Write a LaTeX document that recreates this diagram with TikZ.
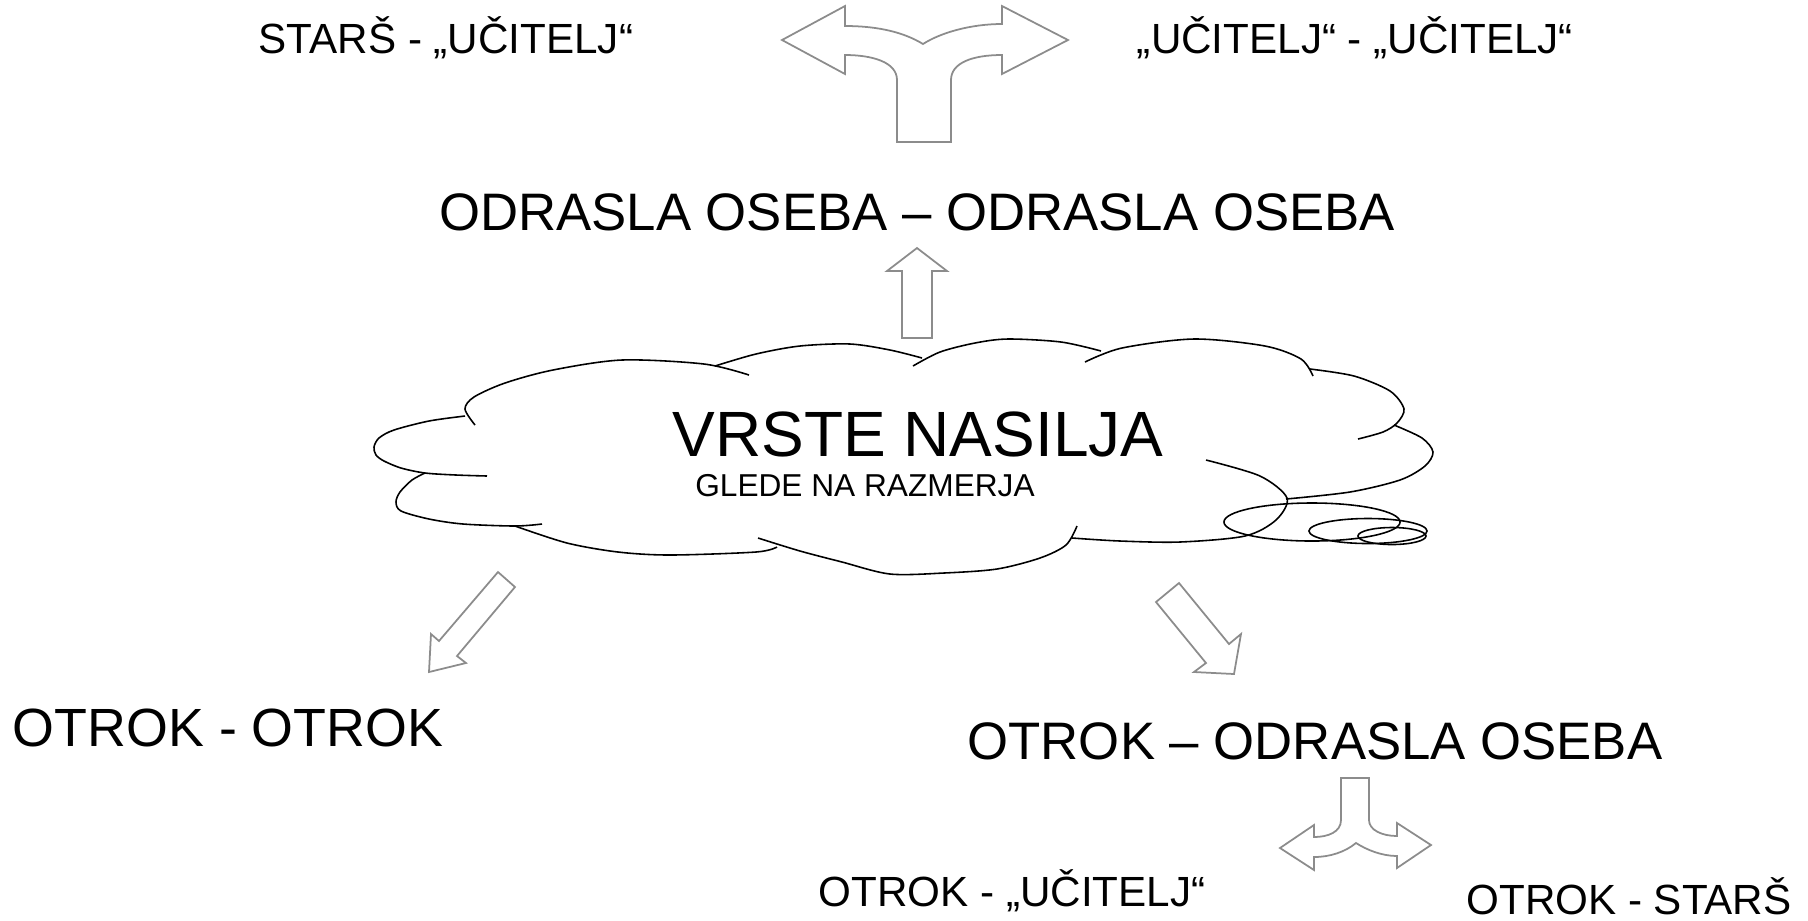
\documentclass[tikz,border=0pt]{standalone}
\usepackage{fontspec}
\setmainfont{Liberation Sans}

\begin{document}
\begin{tikzpicture}[x=0.01cm, y=-0.01cm,
    smalltext/.style={font=\fontsize{12}{14}\selectfont, anchor=base, inner sep=0pt},
    bigtext/.style={font=\fontsize{15}{18}\selectfont, anchor=base, inner sep=0pt},
    blockarrow/.style={draw=black!45, fill=white, line width=0.5pt, line join=miter},
    cloudline/.style={line width=0.45pt}
]
    \useasboundingbox (0,0) rectangle (1808,920);

    % Cloud outline
    \draw[cloudline] plot[smooth] coordinates {(465,416) (429,421) (394,430) (379,438) (374,447) (376,455) (384,461) (401,468) (425,473) (456,475) (487,476)};
    \draw[cloudline] plot[smooth] coordinates {(475,425) (465,409) (474,397) (505,383) (553,370) (622,360) (704,364) (749,375)};
    \draw[cloudline] plot[smooth] coordinates {(715,366) (756,354) (800,346) (850,344) (890,350) (922,358)};
    \draw[cloudline] plot[smooth] coordinates {(913,366) (940,352) (975,343) (1008,339) (1061,342) (1101,351)};
    \draw[cloudline] plot[smooth] coordinates {(1085,362) (1122,348) (1194,339) (1265,346) (1301,359) (1313,376)};
    \draw[cloudline] plot[smooth] coordinates {(1310,369) (1354,376) (1390,391) (1404,409) (1397,423) (1383,432) (1358,439)};
    \draw[cloudline] plot[smooth] coordinates {(1394,425) (1422,438) (1433,452) (1425,466) (1400,480) (1350,492) (1286,499)};
    \draw[cloudline] plot[smooth] coordinates {(1206,460) (1260,476) (1287,498) (1276,520) (1245,536) (1180,542) (1120,541) (1072,538)};
    \draw[cloudline] plot[smooth] coordinates {(1077,526) (1066,545) (1040,558) (997,569) (944,573) (890,574) (842,562) (800,551) (758,538)};
    \draw[cloudline] plot[smooth] coordinates {(777,547) (756,552) (670,555) (618,552) (567,543) (515,526)};
    \draw[cloudline] plot[smooth] coordinates {(542,524) (515,526) (463,524) (429,519) (401,511) (396,502) (400,492) (412,480) (425,473)};

    % Tail of the cloud
    \draw[cloudline] (1312,522) ellipse [x radius=0.88cm, y radius=0.19cm];
    \draw[cloudline] (1368,531) ellipse [x radius=0.59cm, y radius=0.125cm];
    \draw[cloudline] (1392,536) ellipse [x radius=0.34cm, y radius=0.085cm];

    % Texts
    \node[font=\fontsize{18.2}{22}\selectfont, anchor=base, inner sep=0pt] (vrste) at (918,456) {VRSTE NASILJA};
    \node[font=\fontsize{9}{11}\selectfont, anchor=base, inner sep=0pt] (glede) at (865,496) {GLEDE NA RAZMERJA};
    \node[bigtext] (odrasli) at (917,230) {ODRASLA OSEBA – ODRASLA OSEBA};
    \node[smalltext] (starsucitelj) at (446,53) {STARŠ - „UČITELJ“};
    \node[smalltext] (ucitelja) at (1355,53) {„UČITELJ“ - „UČITELJ“};
    \node[bigtext, font=\fontsize{15.3}{18}\selectfont] (otroci) at (228,746) {OTROK - OTROK};
    \node[bigtext] (otrokodrasel) at (1315,759) {OTROK – ODRASLA OSEBA};
    \node[smalltext] (otrokucitelj) at (1012,906) {OTROK - „UČITELJ“};
    \node[smalltext] (otrokstars) at (1629,914) {OTROK - STARŠ};

    % Block arrows
    \draw[blockarrow] (902,338) -- (902,271) -- (887,271) -- (917,248) -- (947,271) -- (932,271) -- (932,338) -- cycle;
    \draw[blockarrow] (498,572) -- (515,587) -- (457,656) -- (466,663) -- (429,672) -- (431,634) -- (439,641) -- cycle;
    \draw[blockarrow] (1179,583) -- (1229,644) -- (1241,634) -- (1234,674) -- (1194,672) -- (1206,663) -- (1156,602) -- cycle;
    \draw[blockarrow] (897,142) -- (897,80) .. controls (897,62) and (872,55) .. (845,55) -- (845,74) -- (782,40) -- (845,6) -- (845,26)
        .. controls (880,26) and (905,33) .. (923,44) .. controls (940,33) and (970,24) .. (1002,24) -- (1002,6) -- (1068,40) -- (1002,74) -- (1002,55)
        .. controls (972,55) and (951,63) .. (951,80) -- (951,142) -- cycle;
    \draw[blockarrow] (1341,778) -- (1341,820) .. controls (1341,832) and (1328,837) .. (1314,837) -- (1314,825) -- (1280,848) -- (1314,870) -- (1314,857)
        .. controls (1330,857) and (1345,852) .. (1356,843) .. controls (1367,850) and (1382,856) .. (1397,856) -- (1397,868) -- (1431,845) -- (1397,823) -- (1397,836)
        .. controls (1382,836) and (1369,830) .. (1369,820) -- (1369,778) -- cycle;
\end{tikzpicture}
\end{document}
